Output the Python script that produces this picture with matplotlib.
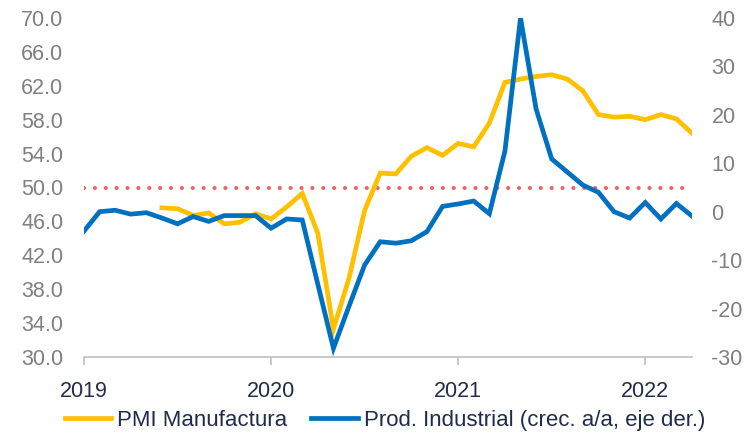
import matplotlib
matplotlib.use("Agg")
import matplotlib.pyplot as plt
import numpy as np

plt.rcParams['font.family'] = ['Liberation Sans', 'DejaVu Sans']

# Monthly index: 0 = Jan 2019 ... 39 = Apr 2022
months = list(range(40))
year_ticks = [0, 12, 24, 36]
year_labels = ["2019", "2020", "2021", "2022"]

# PMI Manufactura (left axis), starts Jun 2019 (index 5)
pmi_start = 5
pmi = [47.6, 47.5, 46.7, 47.0, 45.7, 45.9, 46.9,
       46.3, 47.7, 49.3, 44.6, 33.3, 39.3, 47.3, 51.7, 51.6, 53.7, 54.7, 53.8,
       55.2, 54.8, 57.6, 62.4, 62.8, 63.1, 63.3, 62.8, 61.4, 58.6, 58.3, 58.4,
       58.0, 58.6, 58.1, 56.4]

# Prod. Industrial (crec. a/a, right axis)
prod = [-4.0, 0.0, 0.3, -0.5, -0.2, -1.3, -2.5, -1.0, -2.0, -0.8, -0.8, -0.8,
        -3.4, -1.5, -1.7, -15.0, -28.2, -19.5, -11.0, -6.2, -6.5, -6.0, -4.1, 1.1,
        1.6, 2.2, -0.4, 12.5, 40.0, 21.2, 10.9, 8.2, 5.5, 4.0, 0.0, -1.3,
        1.9, -1.5, 1.7, -0.9]

threshold = 50.0

left_ticks = [30, 34, 38, 42, 46, 50, 54, 58, 62, 66, 70]
right_ticks = [-30, -20, -10, 0, 10, 20, 30, 40]

YELLOW = "#FFC000"
BLUE = "#0070C0"
RED = "#F4606A"
GRAY = "#808080"
NAVY = "#1F2D4A"

fig = plt.figure(figsize=(7.5, 4.33), dpi=100)
ax = fig.add_axes([84/750, 1-357/433, (692-84)/750, (357-18)/433])
ax2 = ax.twinx()

ax.plot([months[0], months[-1]], [threshold, threshold], color=RED, lw=3.0,
        linestyle=(0, (0.01, 2.6)), dash_capstyle='round', zorder=1)
l1, = ax.plot(months[pmi_start:pmi_start+len(pmi)], pmi, color=YELLOW, lw=3.4,
              solid_joinstyle='miter', label="PMI Manufactura", zorder=2)
l2, = ax2.plot(months, prod, color=BLUE, lw=3.4, solid_joinstyle='miter',
               label="Prod. Industrial (crec. a/a, eje der.)", zorder=3)

ax.set_xlim(0, 39)
ax.set_ylim(30, 70)
ax2.set_ylim(-30, 40)
ax.set_yticks(left_ticks)
ax.set_yticklabels([f"{v:.1f}" for v in left_ticks])
ax2.set_yticks(right_ticks)
ax2.set_yticklabels([str(v) for v in right_ticks])
ax.set_xticks(year_ticks)
ax.set_xticklabels(year_labels)

for a in (ax, ax2):
    for s in ("top", "left", "right"):
        a.spines[s].set_visible(False)
ax2.spines["bottom"].set_visible(False)
ax.spines["bottom"].set_color("#BFBFBF")
ax.spines["bottom"].set_linewidth(1.2)

ax.tick_params(axis='y', length=0, pad=15, labelsize=15.5, labelcolor=GRAY)
ax2.tick_params(axis='y', length=0, pad=14, labelsize=15.5, labelcolor=GRAY)
ax.tick_params(axis='x', length=6, width=1.2, color="#BFBFBF", pad=11,
               labelsize=15.5, labelcolor=NAVY)

fig.legend(handles=[l1, l2], loc='center', bbox_to_anchor=(0.513, 0.030),
           ncol=2, frameon=False, fontsize=16, handlelength=2.1,
           handletextpad=0.25, columnspacing=1.1, labelcolor=NAVY,
           borderaxespad=0, borderpad=0)

fig.savefig("out.png", dpi=100)
